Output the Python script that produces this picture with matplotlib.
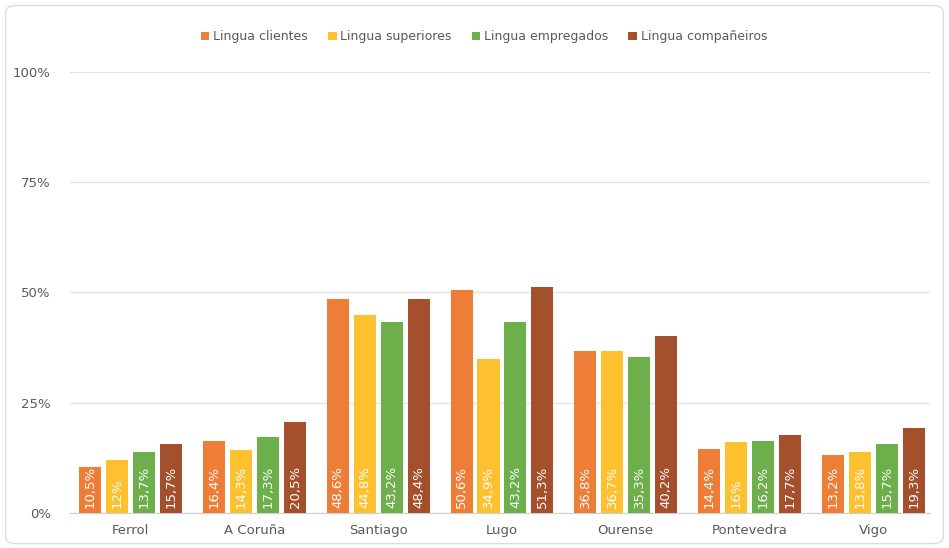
import numpy as np
import matplotlib
matplotlib.use("Agg")
import matplotlib.pyplot as plt
from matplotlib.patches import FancyBboxPatch

# Datos
cidades = ["Ferrol", "A Coruña", "Santiago", "Lugo", "Ourense", "Pontevedra", "Vigo"]
series = ["Lingua clientes", "Lingua superiores", "Lingua empregados", "Lingua compañeiros"]
clientes = [10.5, 16.4, 48.6, 50.6, 36.8, 14.4, 13.2]
superiores = [12.0, 14.3, 44.8, 34.9, 36.7, 16.0, 13.8]
empregados = [13.7, 17.3, 43.2, 43.2, 35.3, 16.2, 15.7]
companeiros = [15.7, 20.5, 48.4, 51.3, 40.2, 17.7, 19.3]
etiquetas_y = ["0%", "25%", "50%", "75%", "100%"]

cores = ["#EE7D37", "#FDC02F", "#6DAF4B", "#A5502D"]
valores = [clientes, superiores, empregados, companeiros]

def fmt(v):
    s = ("%.1f" % v).rstrip("0").rstrip(".")
    return s.replace(".", ",") + "%"

fig = plt.figure(figsize=(9.49, 5.48), dpi=100)
ax = fig.add_axes([0.074, 0.064, 0.906, 0.805])

x = np.arange(len(cidades))
ancho = 0.178
paso = 0.218
for i, (serie, vals) in enumerate(zip(series, valores)):
    pos = x + (i - 1.5) * paso
    ax.bar(pos, vals, width=ancho, color=cores[i], label=serie, zorder=3)
    for p, v in zip(pos, vals):
        ax.text(p, 1.2, fmt(v), rotation=90, ha="center", va="bottom",
                color="white", fontsize=9.5, zorder=4)

ax.set_xlim(-0.49, 6.46)
ax.set_ylim(0, 100)
ax.set_yticks([0, 25, 50, 75, 100])
ax.set_yticklabels(etiquetas_y)
ax.set_xticks(x)
ax.set_xticklabels(cidades)
ax.tick_params(axis="both", length=0, colors="#595959", labelsize=9.5)
ax.tick_params(axis="y", pad=14)
ax.tick_params(axis="x", pad=8)
ax.grid(axis="y", color="#E3E3E3", linewidth=1, zorder=0)
for s in ["top", "right", "left"]:
    ax.spines[s].set_visible(False)
ax.spines["bottom"].set_color("#D0D0D0")

leg = fig.legend(loc="upper center", bbox_to_anchor=(0.51, 0.965), ncol=4,
                 frameon=False, fontsize=9, handlelength=0.7, handleheight=0.7,
                 handletextpad=0.3, columnspacing=1.6)
for t in leg.get_texts():
    t.set_color("#595959")

borde = FancyBboxPatch((0.006, 0.008), 0.988, 0.982, boxstyle="round,pad=0,rounding_size=0.012",
                       transform=fig.transFigure, facecolor="none", edgecolor="#DDDDDD", linewidth=1)
fig.patches.append(borde)

fig.savefig("out.png", dpi=100)
